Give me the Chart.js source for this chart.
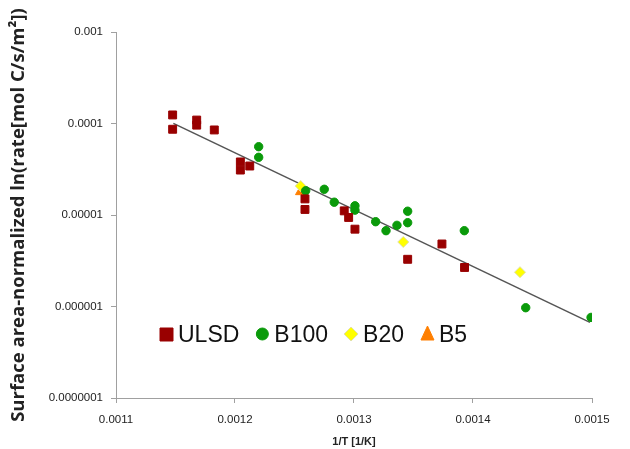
<!DOCTYPE html>
<html>
<head>
<meta charset="utf-8">
<script src="https://cdn.jsdelivr.net/npm/chart.js@4/dist/chart.umd.min.js"></script>
<style>
  html, body { margin: 0; padding: 0; background: #fff; }
  #wrap { width: 630px; height: 449px; }
</style>
</head>
<body>
<div id="wrap"><canvas id="arrhenius"></canvas></div>
<script>
const ulsdX = [0.0011476, 0.0011476, 0.0011678, 0.0011678, 0.0011826, 0.0012045, 0.0012045, 0.0012124,
  0.0012588, 0.0012588, 0.0012918, 0.0012955, 0.0013008, 0.0013451, 0.0013739, 0.0013929];
const ulsdY = [1.24e-4, 8.65e-5, 1.09e-4, 9.6e-5, 8.5e-5, 3.8e-5, 3.1e-5, 3.43e-5,
  1.5e-5, 1.15e-5, 1.11e-5, 9.4e-6, 7.0e-6, 3.28e-6, 4.82e-6, 2.67e-6];

const b100X = [0.0012199, 0.0012199, 0.0012594, 0.001275, 0.0012834, 0.0013008, 0.0013008, 0.0013182,
  0.0013269, 0.0013361, 0.0013451, 0.0013451, 0.0013927, 0.0014443, 0.0014992];
const b100Y = [5.58e-5, 4.27e-5, 1.84e-5, 1.91e-5, 1.38e-5, 1.26e-5, 1.13e-5, 8.45e-6,
  6.74e-6, 7.71e-6, 1.1e-5, 8.24e-6, 6.74e-6, 9.7e-7, 7.6e-7];

const b20X = [0.0012552, 0.0013414, 0.0014395];
const b20Y = [2.07e-5, 5.07e-6, 2.37e-6];

const b5X = [0.0012552];
const b5Y = [1.8e-5];

// exponential trend line, straight on the log axis
const trendX = [0.0011482, 0.0014983];
const trendY = [1.005e-4, 6.7e-7];

const xTicks = [0.0011, 0.0012, 0.0013, 0.0014, 0.0015];
const yTicks = [1e-7, 1e-6, 1e-5, 1e-4, 1e-3];
const yTickLabels = ["0.0000001", "0.000001", "0.00001", "0.0001", "0.001"];

const pts = (xs, ys) => xs.map((x, i) => ({ x: x, y: ys[i] }));

const series = [
  { label: "ULSD", data: pts(ulsdX, ulsdY), pointStyle: "rect", pointRadius: 5.6, backgroundColor: "#990000", borderColor: "#990000" },
  { label: "B100", data: pts(b100X, b100Y), pointStyle: "circle", pointRadius: 4.2, backgroundColor: "#0a9a0a", borderColor: "#0a9a0a" },
  { label: "B20", data: pts(b20X, b20Y), pointStyle: "rectRot", pointRadius: 5.5, backgroundColor: "#ffff00", borderColor: "#e0e0a8" },
  { label: "B5", data: pts(b5X, b5Y), pointStyle: "triangle", pointRadius: 6, backgroundColor: "#ff7f00", borderColor: "#ff7f00" },
];

const legendInside = {
  id: "legendInside",
  afterDatasetsDraw(chart) {
    const ctx = chart.ctx;
    ctx.save();
    ctx.font = "23px 'Liberation Sans', Arial, sans-serif";
    ctx.textBaseline = "middle";
    let x = 160;
    const y = 335;
    series.forEach((s) => {
      ctx.fillStyle = s.backgroundColor;
      ctx.strokeStyle = s.borderColor;
      ctx.lineWidth = 1;
      ctx.beginPath();
      if (s.pointStyle === "rect") {
        ctx.rect(x, y - 7, 13, 13);
      } else if (s.pointStyle === "circle") {
        ctx.arc(x + 6, y - 1, 6, 0, Math.PI * 2);
      } else if (s.pointStyle === "rectRot") {
        ctx.moveTo(x + 6, y - 8); ctx.lineTo(x + 13, y - 1);
        ctx.lineTo(x + 6, y + 6); ctx.lineTo(x - 1, y - 1); ctx.closePath();
      } else {
        ctx.moveTo(x + 6.5, y - 9); ctx.lineTo(x + 13, y + 5); ctx.lineTo(x, y + 5); ctx.closePath();
      }
      ctx.fill();
      ctx.stroke();
      ctx.fillStyle = "#111";
      ctx.fillText(s.label, x + 18, y + 1);
      x += 18 + ctx.measureText(s.label).width + 17;
    });
    ctx.restore();
  },
};

new Chart(document.getElementById("arrhenius"), {
  type: "scatter",
  data: {
    datasets: series.map((s) => ({
      label: s.label,
      data: s.data,
      pointStyle: s.pointStyle,
      pointRadius: s.pointRadius,
      pointHoverRadius: s.pointRadius,
      backgroundColor: s.backgroundColor,
      borderColor: s.borderColor,
      borderWidth: 1,
    })).concat([{
      label: "trend",
      type: "line",
      data: pts(trendX, trendY),
      borderColor: "#555",
      borderWidth: 1.5,
      pointRadius: 0,
      fill: false,
    }]),
  },
  options: {
    responsive: true,
    maintainAspectRatio: false,
    animation: false,
    layout: { padding: { left: 0, top: 32, right: 38, bottom: 0 } },
    plugins: { legend: { display: false }, tooltip: { enabled: false } },
    scales: {
      x: {
        type: "linear",
        min: 0.0011,
        max: 0.0015,
        afterBuildTicks: (s) => { s.ticks = xTicks.map((v) => ({ value: v })); },
        afterFit: (s) => { s.height = 51; },
        grid: { drawOnChartArea: false, drawTicks: true, tickLength: 5, color: "#a0a0a0" },
        border: { color: "#a0a0a0" },
        ticks: {
          padding: 10,
          color: "#222",
          font: { family: "'Liberation Sans', Arial", size: 11.5 },
          callback: (v) => (+v.toFixed(4)).toString(),
        },
        title: {
          display: true,
          text: "1/T [1/K]",
          color: "#222",
          padding: { top: 6, bottom: 0 },
          font: { family: "'Liberation Sans', Arial", size: 11, weight: "bold" },
        },
      },
      y: {
        type: "logarithmic",
        min: 1e-7,
        max: 1e-3,
        afterBuildTicks: (s) => { s.ticks = yTicks.map((v) => ({ value: v })); },
        afterFit: (s) => { s.width = 116; },
        grid: { drawOnChartArea: false, drawTicks: true, tickLength: 5, color: "#a0a0a0" },
        border: { color: "#a0a0a0" },
        ticks: {
          padding: 8,
          color: "#222",
          font: { family: "'Liberation Sans', Arial", size: 11.5 },
          callback: (v) => yTickLabels[Math.round(Math.log10(v)) + 7],
        },
        title: {
          display: true,
          text: "Surface area-normalized ln(rate[mol C/s/m²])",
          color: "#222",
          padding: { top: 8, bottom: 0 },
          font: { family: "'Open Sans', 'Liberation Sans', Arial", size: 18.5, weight: "bold" },
        },
      },
    },
  },
  plugins: [legendInside],
});
</script>
</body>
</html>
